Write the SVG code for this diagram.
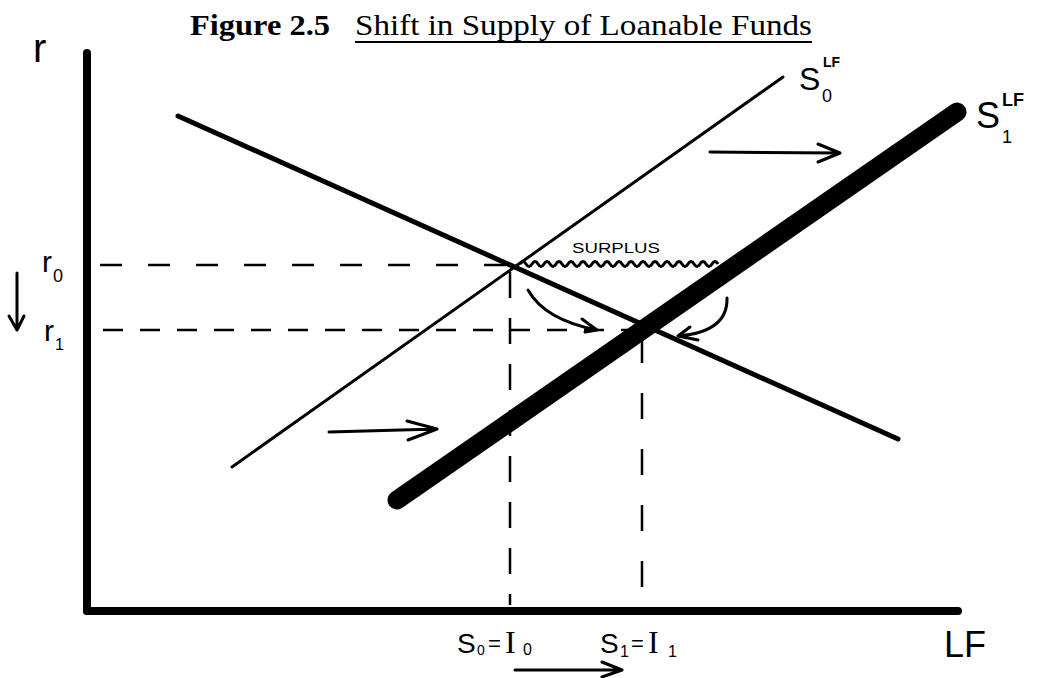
<svg xmlns="http://www.w3.org/2000/svg" width="1037" height="678" viewBox="0 0 1037 678">
<defs>
<style>
.title{font-family:"Liberation Serif",serif;font-size:30px;fill:#000}
.hand{font-family:"Liberation Sans",sans-serif;fill:#000}
.ser{font-family:"Liberation Serif",serif;fill:#000}
.dash{stroke:#000;stroke-width:2.5;fill:none}
.arr{stroke:#000;stroke-width:3;fill:none;stroke-linecap:round;stroke-linejoin:round}
</style>
</defs>
<rect width="1037" height="678" fill="#fff"/>
<g id="title">
<text class="title" x="190" y="35" font-weight="bold" textLength="140" lengthAdjust="spacingAndGlyphs">Figure 2.5</text>
<text class="title" x="355" y="35" textLength="457" lengthAdjust="spacingAndGlyphs">Shift in Supply of Loanable Funds</text>
<line x1="355" y1="42" x2="812" y2="42" stroke="#000" stroke-width="2"/>
</g>
<g id="axes">
<line x1="87" y1="53" x2="87" y2="611" stroke="#000" stroke-width="8" stroke-linecap="round"/>
<line x1="87" y1="611" x2="958" y2="611" stroke="#000" stroke-width="8" stroke-linecap="round"/>
<text class="hand" x="33" y="62" font-size="40">r</text>
<text class="hand" x="944" y="657" font-size="36">LF</text>
</g>
<g id="connectors">
<line class="dash" x1="100" y1="265" x2="511" y2="265" stroke-dasharray="22 26"/>
<line class="dash" x1="103" y1="330" x2="638" y2="330" stroke-dasharray="20 17"/>
<line class="dash" x1="510" y1="272" x2="510" y2="605" stroke-dasharray="26 20"/>
<line class="dash" x1="642" y1="337" x2="642" y2="605" stroke-dasharray="26 30"/>
</g>
<g id="demand">
<line x1="178" y1="116" x2="898" y2="439" stroke="#000" stroke-width="5" stroke-linecap="round"/>
</g>
<g id="supply0">
<line x1="232" y1="467" x2="783" y2="77" stroke="#000" stroke-width="3" stroke-linecap="round"/>
<text class="hand" x="799" y="90" font-size="32">S</text>
<text class="hand" x="823" y="67" font-size="14" font-weight="bold">LF</text>
<text class="hand" x="822" y="102" font-size="18">0</text>
</g>
<g id="supply1">
<line x1="397" y1="500" x2="957" y2="112" stroke="#000" stroke-width="19" stroke-linecap="round"/>
<text class="hand" x="976" y="128" font-size="36">S</text>
<text class="hand" x="1002" y="106" font-size="18" font-weight="bold">LF</text>
<text class="hand" x="1002" y="143" font-size="18">1</text>
</g>
<g id="labels">
<text class="hand" x="42" y="272" font-size="30">r</text>
<text class="hand" x="53" y="282" font-size="18">0</text>
<text class="hand" x="44" y="341" font-size="30">r</text>
<text class="hand" x="55" y="350" font-size="16">1</text>
<path class="arr" d="M17,273 L17,330 M9,316 L17,330 L24,316"/>
<text class="hand" x="572" y="253" font-size="15" textLength="88" lengthAdjust="spacingAndGlyphs">SURPLUS</text>
<path d="M520,264 q3,-5 6,0 t6,0 t6,0 t6,0 t6,0 t6,0 t6,0 t6,0 t6,0 t6,0 t6,0 t6,0 t6,0 t6,0 t6,0 t6,0 t6,0 t6,0 t6,0 t6,0 t6,0 t6,0 t6,0 t6,0 t6,0 t6,0 t6,0 t6,0 t6,0 t6,0 t6,0 t6,0 t6,0" fill="none" stroke="#000" stroke-width="3"/>
<path class="arr" d="M528,290 Q545,320 597,330 M582,319 L597,330 L585,332"/>
<path class="arr" d="M727,298 Q728,332 678,336 M690,327 L678,336 L698,340"/>
<path class="arr" d="M710,152 L840,153 M818,144 L840,153 L818,162"/>
<path class="arr" d="M329,432 L437,429 M407,421 L437,429 L408,440"/>
<text class="hand" x="457" y="653" font-size="28">S</text>
<text class="hand" x="477" y="655" font-size="14">0</text>
<text class="hand" x="488" y="651" font-size="22">=</text>
<text class="ser" x="505" y="653" font-size="32">I</text>
<text class="hand" x="523" y="655" font-size="16">0</text>
<text class="hand" x="600" y="653" font-size="28">S</text>
<text class="hand" x="620" y="657" font-size="16">1</text>
<text class="hand" x="631" y="651" font-size="22">=</text>
<text class="ser" x="648" y="653" font-size="32">I</text>
<text class="hand" x="668" y="657" font-size="16">1</text>
<path class="arr" d="M515,670 L622,670 M602,662 L622,670 L602,677"/>
</g>
</svg>
